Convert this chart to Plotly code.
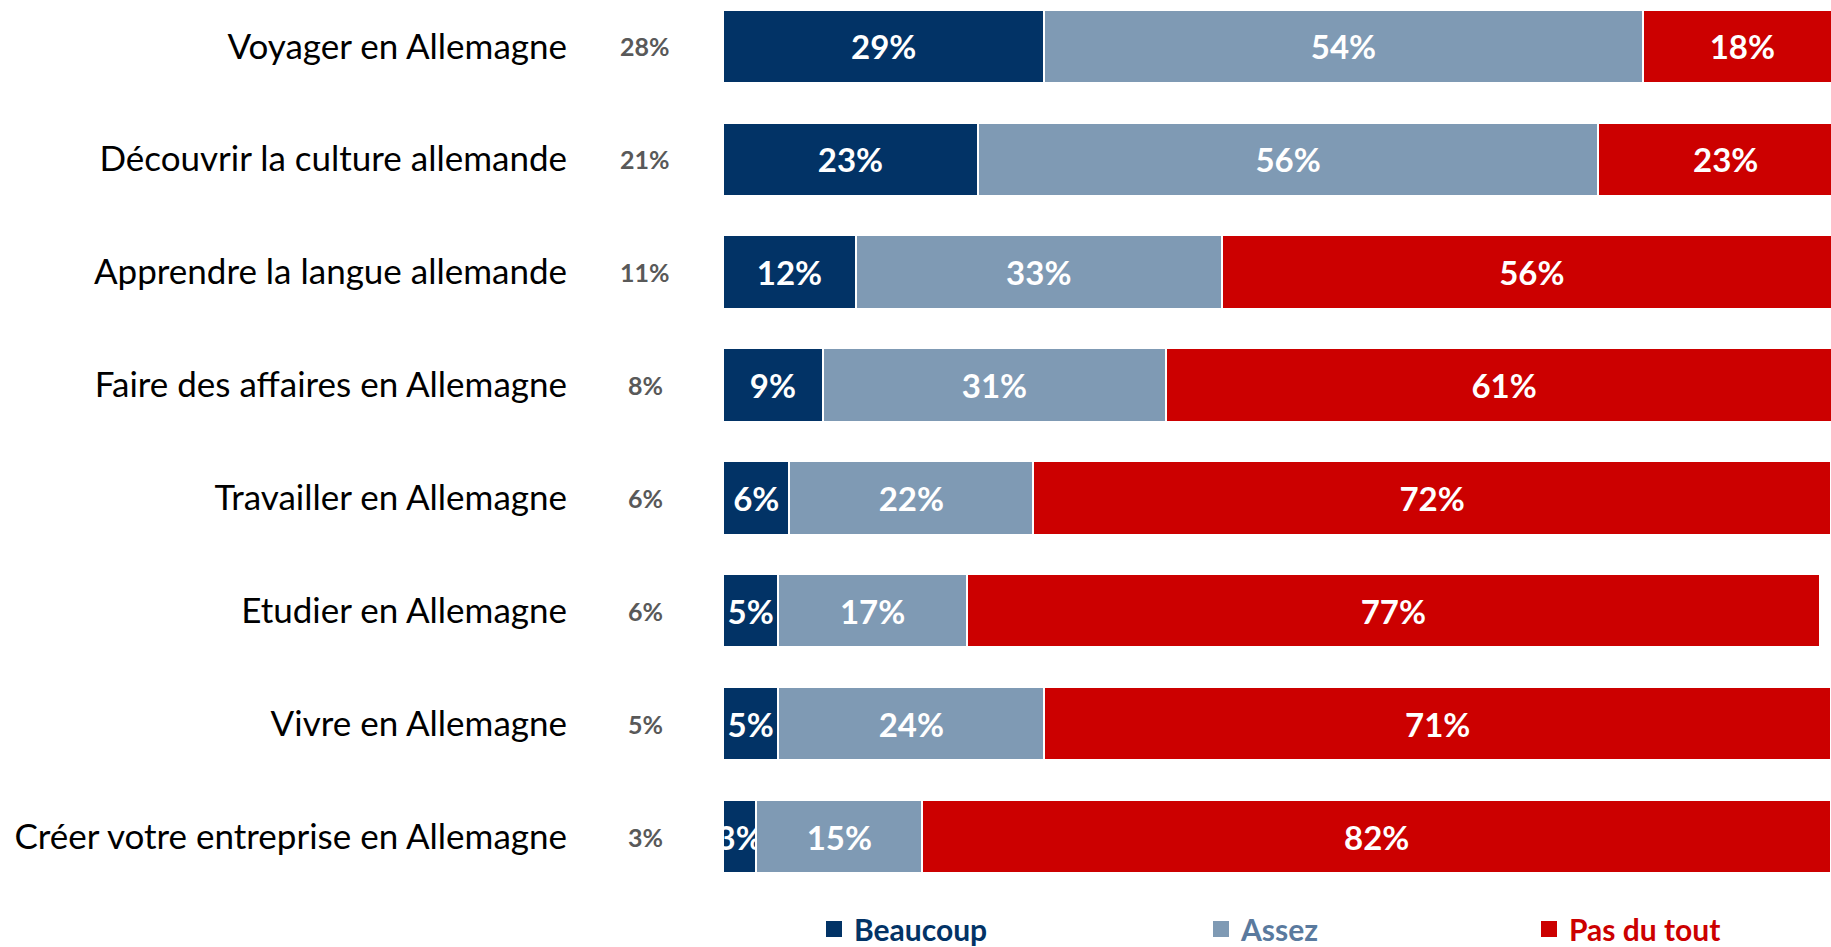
import plotly.graph_objects as go

# Survey answers per topic (percent)
categories = [
    "Voyager en Allemagne",
    "Découvrir la culture allemande",
    "Apprendre la langue allemande",
    "Faire des affaires en Allemagne",
    "Travailler en Allemagne",
    "Etudier en Allemagne",
    "Vivre en Allemagne",
    "Créer votre entreprise en Allemagne",
]
beaucoup = [29, 23, 12, 9, 6, 5, 5, 3]
assez = [54, 56, 33, 31, 22, 17, 24, 15]
pas_du_tout = [18, 23, 56, 61, 72, 77, 71, 82]
side_values = [28, 21, 11, 8, 6, 6, 5, 3]

series_names = ["Beaucoup", "Assez", "Pas du tout"]
bar_colors = ["#023366", "#7f9ab4", "#cc0000"]
legend_text_colors = ["#023366", "#5a7a9e", "#cc0000"]

W, H = 1831, 947
LEFT, BOTTOM = 723, 67
PLOT_W = W - LEFT
PLOT_H = H - BOTTOM

FONT = "Lato"

fig = go.Figure()

for vals, name, col in zip([beaucoup, assez, pas_du_tout], series_names, bar_colors):
    fig.add_trace(go.Bar(
        y=categories,
        x=vals,
        name=name,
        orientation="h",
        width=0.65,
        marker=dict(color=col, line=dict(color="white", width=2)),
        text=[f"{v}%" for v in vals],
        textposition="inside",
        insidetextanchor="middle",
        textangle=0,
        textfont=dict(family=FONT, size=33, color="white", weight="bold"),
        cliponaxis=True,
        showlegend=False,
        hoverinfo="skip",
    ))

# Legend entries, each in its own legend box so they can be spaced freely
legend_px = [826, 1213, 1541]
legend_ids = ["legend", "legend2", "legend3"]
for name, col, lid in zip(series_names, bar_colors, legend_ids):
    fig.add_trace(go.Scatter(
        x=[None], y=[None], mode="markers", name=name,
        marker=dict(symbol="square", size=16, color=col),
        legend=lid, showlegend=True,
    ))

legend_layout = {}
for lid, px, tcol in zip(legend_ids, legend_px, legend_text_colors):
    legend_layout[lid] = dict(
        orientation="h",
        x=(px - 12 - LEFT) / PLOT_W,
        xanchor="left",
        y=-(929 - PLOT_H) / PLOT_H,
        yanchor="middle",
        bgcolor="rgba(0,0,0,0)",
        borderwidth=0,
        itemsizing="trace",
        font=dict(family=FONT, size=30, color=tcol, weight="bold"),
    )

# Grey percentages to the left of the bars
annotations = []
for cat, v in zip(categories, side_values):
    annotations.append(dict(
        x=(645 - LEFT) / PLOT_W, xref="paper", xanchor="center",
        y=cat, yref="y", yanchor="middle",
        text=f"{v}%", showarrow=False,
        font=dict(family=FONT, size=25, color="#595959", weight="bold"),
    ))

pitch = 112.9
top_val = -46.3 / pitch
bottom_val = top_val + PLOT_H / pitch

fig.update_layout(
    width=W, height=H,
    barmode="stack",
    bargap=0.35,
    paper_bgcolor="white",
    plot_bgcolor="white",
    margin=dict(l=LEFT, r=0, t=0, b=BOTTOM, pad=0, autoexpand=False),
    uniformtext=dict(minsize=33, mode="show"),
    annotations=annotations,
    xaxis=dict(range=[0, 100], visible=False, fixedrange=True),
    yaxis=dict(
        categoryorder="array", categoryarray=categories,
        range=[bottom_val, top_val],
        showgrid=False, showline=False, zeroline=False, ticks="",
        tickfont=dict(family=FONT, size=35, color="black"),
        ticklabelstandoff=155,
    ),
    **legend_layout,
)

fig.write_html("out.html", config={"displayModeBar": False})
